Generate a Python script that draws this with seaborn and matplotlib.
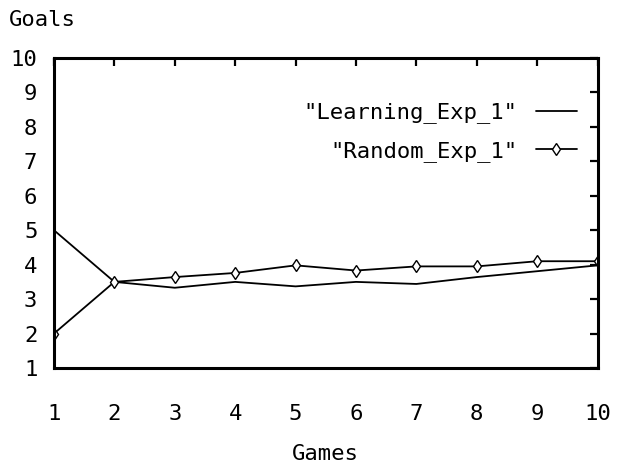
import matplotlib
matplotlib.use("Agg")
import matplotlib.pyplot as plt
import seaborn as sns
import pandas as pd

games = [1, 2, 3, 4, 5, 6, 7, 8, 9, 10]
learning = [5.0, 3.5, 3.33, 3.5, 3.37, 3.5, 3.44, 3.64, 3.81, 3.98]
random_ = [2.0, 3.5, 3.64, 3.76, 3.98, 3.83, 3.95, 3.95, 4.1, 4.1]
xticks = [1, 2, 3, 4, 5, 6, 7, 8, 9, 10]
yticks = [1, 2, 3, 4, 5, 6, 7, 8, 9, 10]

sns.set_theme(style="white")
plt.rcParams['font.family'] = ['DejaVu Sans Mono']
plt.rcParams['text.color'] = 'black'
plt.rcParams['axes.labelcolor'] = 'black'

fig = plt.figure(figsize=(6.17, 4.66), dpi=100)
ax = fig.add_axes([0.0875, 0.2103, 0.881, 0.6652])

df_l = pd.DataFrame({"Games": games, "Goals": learning})
df_r = pd.DataFrame({"Games": games, "Goals": random_})

sns.lineplot(data=df_l, x="Games", y="Goals", ax=ax, color="black", lw=1.3,
             label='"Learning_Exp_1"')
sns.lineplot(data=df_r, x="Games", y="Goals", ax=ax, color="black", lw=1.3,
             marker="d", markersize=6, markerfacecolor="white",
             markeredgecolor="black", markeredgewidth=1.0,
             label='"Random_Exp_1"')

ax.set_xlim(1, 10)
ax.set_ylim(1, 10)
ax.set_xticks(xticks)
ax.set_yticks(yticks)
ax.tick_params(direction="in", length=6, width=1.6, top=True, right=True,
               labelsize=16, colors="black")
ax.tick_params(axis="x", pad=26)
ax.tick_params(axis="y", pad=12)
for s in ax.spines.values():
    s.set_visible(True)
    s.set_linewidth(2.2)
    s.set_color("black")

ax.set_xlabel("Games", fontsize=16, labelpad=14)
ax.set_ylabel("")
fig.text(0.014, 0.958, "Goals", fontsize=16, ha="left", va="center")

leg = ax.legend(loc="upper right", frameon=False, markerfirst=False,
                fontsize=16, handlelength=1.85, labelspacing=0.8,
                bbox_to_anchor=(0.978, 0.885), borderaxespad=0.0)
for t in leg.get_texts():
    t.set_color("black")

fig.savefig("out.png", dpi=100)
